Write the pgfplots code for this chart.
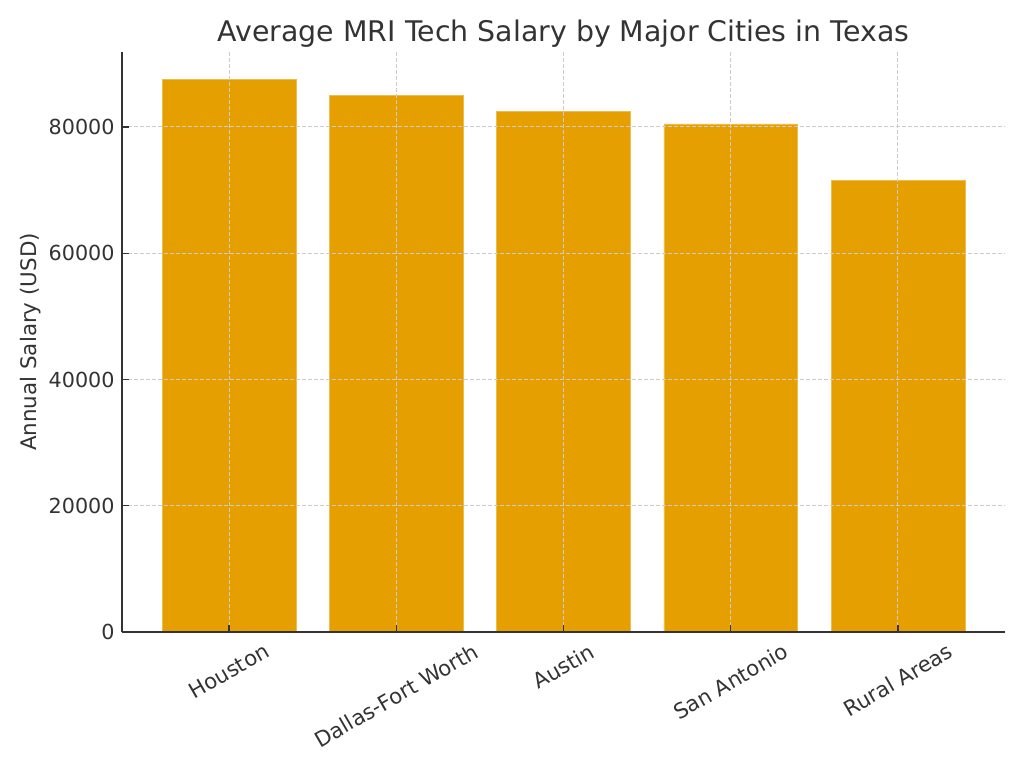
\documentclass[border=0pt]{standalone}
\usepackage{fontspec}
\setmainfont{DejaVu Sans}
\usepackage{pgfplots}
\pgfplotsset{compat=1.18}
\definecolor{barorange}{HTML}{E69F00}
\definecolor{txt}{HTML}{333333}
\definecolor{gridgray}{HTML}{CCCCCC}
\begin{document}
\begin{tikzpicture}
\path[use as bounding box] (0,0) rectangle (512pt,384pt);
\begin{axis}[
    at={(61pt,68pt)}, anchor=south west,
    scale only axis,
    width=441.5pt, height=290pt,
    ybar, bar width=0.8,
    xmin=-0.64, xmax=4.64,
    ymin=0, ymax=91875,
    axis x line*=bottom, axis y line*=left,
    axis line style={color=txt, line width=0.9pt, -},
    axis on top,
    xtick={0,1,2,3,4},
    xticklabels={\rotatebox{30}{Houston},\rotatebox{30}{Dallas-Fort Worth},\rotatebox{30}{Austin},\rotatebox{30}{San Antonio},\rotatebox{30}{Rural Areas}},
    ytick={0,20000,40000,60000,80000},
    scaled y ticks=false,
    /pgf/number format/1000 sep={},
    /pgf/number format/assume math mode=true,
    tick align=inside,
    major tick length=3.3pt,
    tick style={color=txt, line width=0.7pt},
    xmajorgrids, ymajorgrids,
    major grid style={color=gridgray, line width=0.5pt, dash pattern=on 1.8pt off 1.2pt},
    xticklabel style={font=\fontsize{10.6}{12}\selectfont, text=txt, anchor=north, inner sep=0pt, yshift=-5pt},
    yticklabel style={font=\fontsize{10.35}{12}\selectfont, text=txt, anchor=east, inner sep=0pt, xshift=-3.5pt},
    title={Average MRI Tech Salary by Major Cities in Texas},
    title style={font=\fontsize{14.2}{17}\selectfont, text=txt, at={(axis description cs:0.5,1)}, anchor=base, yshift=-0.85pt},
    ylabel={Annual Salary (USD)},
    ylabel style={font=\fontsize{10.7}{12}\selectfont, text=txt, at={(axis description cs:-0.0966,0.5)}, anchor=base},
]
\addplot[fill=barorange, draw=barorange!70!white, line width=0.3pt] coordinates {
    (0,87500) (1,85000) (2,82500) (3,80500) (4,71500)
};
\end{axis}
\end{tikzpicture}
\end{document}
